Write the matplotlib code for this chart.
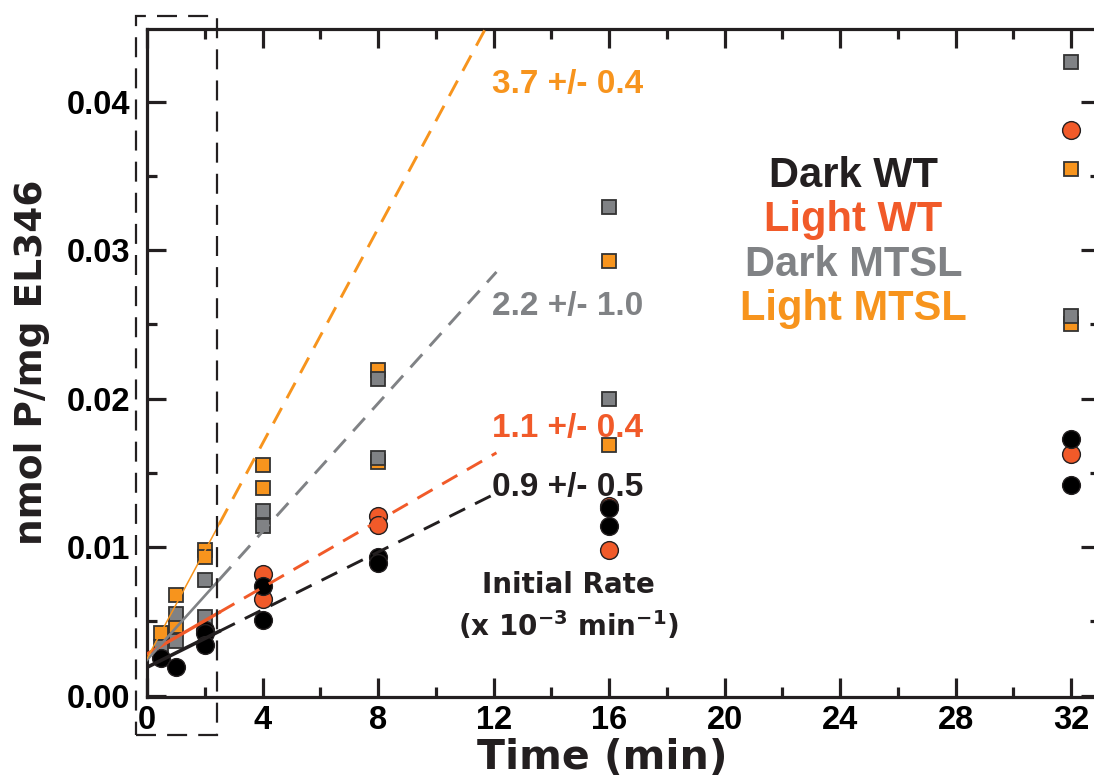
import numpy as np
import matplotlib
matplotlib.use("Agg")
import matplotlib.pyplot as plt
from matplotlib.patches import Rectangle
from matplotlib.ticker import MultipleLocator, FormatStrFormatter

plt.rcParams['font.family'] = ['Liberation Sans', 'DejaVu Sans']
plt.rcParams['font.weight'] = 'bold'
plt.rcParams['mathtext.fontset'] = 'custom'
plt.rcParams['mathtext.rm'] = 'DejaVu Sans:bold'
plt.rcParams['mathtext.bf'] = 'DejaVu Sans:bold'
plt.rcParams['mathtext.default'] = 'bf'

BLACK = '#231F20'
RED = '#F15A29'
GRAY = '#808285'
ORANGE = '#F7941D'

# data (time in min, nmol P/mg)
t_dark_wt = [0.5, 1, 2, 2, 2, 4, 4, 8, 8, 16, 16, 32, 32]
dark_wt = [0.0025, 0.0019, 0.0044, 0.0042, 0.0034, 0.0074, 0.0051,
           0.0093, 0.0089, 0.0126, 0.0114, 0.0173, 0.0142]

t_light_wt = [4, 4, 8, 8, 16, 16, 32, 32]
light_wt = [0.0082, 0.0065, 0.0121, 0.0115, 0.0128, 0.0098, 0.0381, 0.0163]

t_dark_mtsl = [0.5, 1, 1, 2, 2, 4, 4, 8, 8, 16, 16, 32, 32]
dark_mtsl = [0.0033, 0.0055, 0.0037, 0.0078, 0.0053, 0.0124, 0.0114,
             0.0213, 0.0160, 0.0329, 0.0200, 0.0427, 0.0256]

t_light_mtsl = [0.5, 1, 1, 2, 2, 4, 4, 8, 8, 16, 16, 32, 32]
light_mtsl = [0.0042, 0.0068, 0.0047, 0.0098, 0.0093, 0.0155, 0.0140,
              0.0219, 0.0157, 0.0293, 0.0169, 0.0355, 0.0250]

# initial rate fits: dark WT, light WT, dark MTSL, light MTSL
fit_intercept = [0.0019, 0.0028, 0.0024, 0.0025]
fit_slope = [0.00097, 0.00112, 0.00216, 0.00362]
fit_end = [12.1, 12.1, 12.1, 11.8]
fit_colors = [BLACK, RED, GRAY, ORANGE]
solid_lw = [2.6, 2.4, 1.9, 1.1]
solid_end = 2.5

rate_labels = ['0.9 +/- 0.5', '1.1 +/- 0.4', '2.2 +/- 1.0', '3.7 +/- 0.4']
rate_label_y = [0.01345, 0.01742, 0.02565, 0.04057]

legend_names = ['Dark WT', 'Light WT', 'Dark MTSL', 'Light MTSL']
legend_y = [0.03424, 0.03128, 0.02825, 0.02529]

fig = plt.figure(figsize=(10.94, 7.78), dpi=100)
ax = fig.add_axes([0.1344, 0.1041, 0.8711, 0.8586])

ax.plot(t_light_mtsl, light_mtsl, 's', ms=10, mfc=ORANGE, mec='#333333', mew=1.3, zorder=3)
ax.plot(t_dark_mtsl, dark_mtsl, 's', ms=10, mfc=GRAY, mec='#333333', mew=1.3, zorder=4)
ax.plot(t_light_wt, light_wt, 'o', ms=12.8, mfc=RED, mec=BLACK, mew=1.0, zorder=5)
ax.plot(t_dark_wt, dark_wt, 'o', ms=12.8, mfc='black', mec=BLACK, mew=1.0, zorder=6)

for a, b, e, c, lw in zip(fit_intercept, fit_slope, fit_end, fit_colors, solid_lw):
    ts = np.array([0, solid_end])
    ax.plot(ts, a + b * ts, '-', color=c, lw=lw, zorder=7)
    td = np.array([solid_end, e])
    ax.plot(td, a + b * td, color=c, lw=2.1, ls=(0, (6, 3.8)), zorder=7, clip_on=False)

for txt, y, c in zip(rate_labels, rate_label_y, fit_colors):
    ax.text(11.95, y, txt, color=c, fontsize=24, fontweight='bold', va='baseline', ha='left')

for txt, y, c in zip(legend_names, legend_y, fit_colors):
    ax.text(24.46, y, txt, color=c, fontsize=30, fontweight='bold', va='baseline', ha='center')

ax.text(14.6, 0.0069, 'Initial Rate', color=BLACK, fontsize=20, family='DejaVu Sans',
        fontweight='bold', ha='center', va='baseline')
ax.text(14.6, 0.0040, r'(x 10$^{-3}$ min$^{-1}$)', color=BLACK, fontsize=20,
        family='DejaVu Sans', fontweight='bold', ha='center', va='baseline')

# dashed box around the early time points
box = Rectangle((-0.38, -0.00266), 2.80, 0.04846, fill=False, ec=BLACK, lw=1.6,
                ls=(0, (9, 5)), clip_on=False, zorder=8)
ax.add_patch(box)

ax.set_xlim(0, 33)
ax.set_ylim(-0.0001, 0.0449)
ax.xaxis.set_major_locator(MultipleLocator(4))
ax.xaxis.set_minor_locator(MultipleLocator(2))
ax.yaxis.set_major_locator(MultipleLocator(0.01))
ax.yaxis.set_minor_locator(MultipleLocator(0.005))
ax.yaxis.set_major_formatter(FormatStrFormatter('%.2f'))

for s in ax.spines.values():
    s.set_linewidth(2.3)
    s.set_color(BLACK)
ax.tick_params(which='both', direction='in', top=True, right=True, width=2.3, color=BLACK)
ax.tick_params(which='major', length=14)
ax.tick_params(which='minor', length=7)
ax.tick_params(axis='x', pad=6, labelsize=23.5)
ax.tick_params(axis='y', pad=12, labelsize=23.5)
for lab in ax.get_xticklabels() + ax.get_yticklabels():
    lab.set_fontweight('bold')

fig.text(0.5503, 0.026, 'Time (min)', fontsize=29.5, family='DejaVu Sans', fontweight='bold',
         ha='center', va='center', color=BLACK)
fig.text(0.029, 0.5347, 'nmol P/mg EL346', fontsize=27, family='DejaVu Sans',
         fontweight='bold', ha='center', va='center', rotation=90, color=BLACK)

fig.savefig('out.png', dpi=100)
